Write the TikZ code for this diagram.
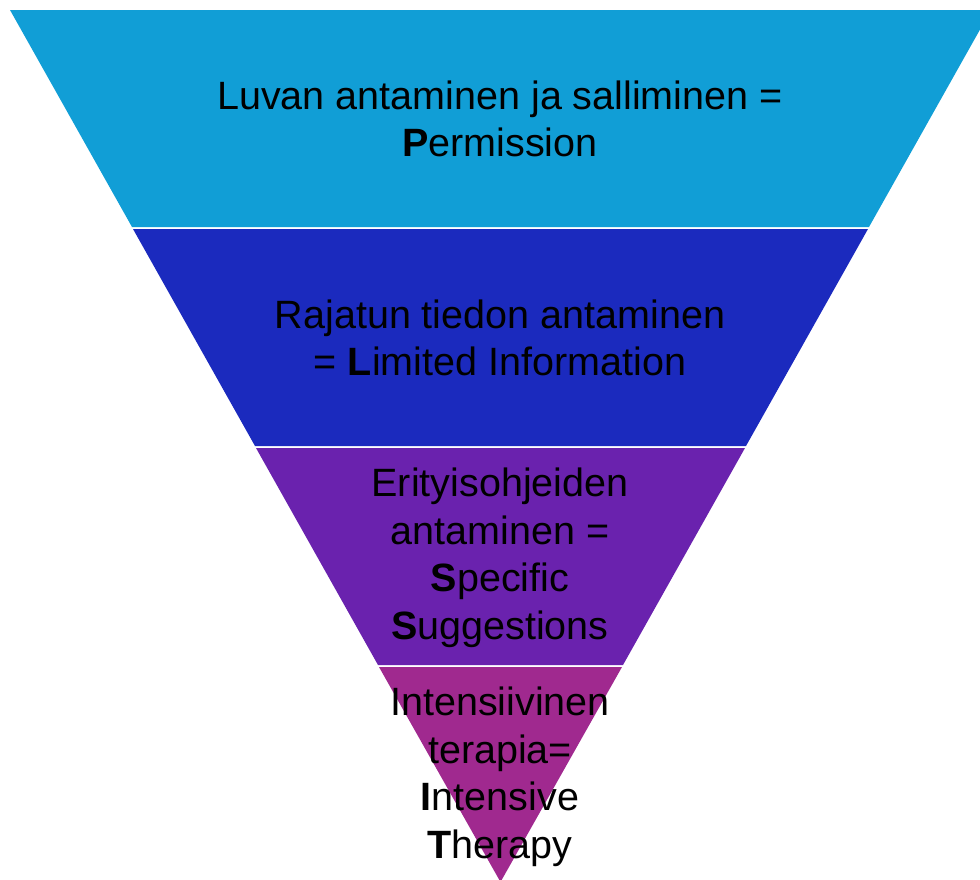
\documentclass[tikz,border=0pt]{standalone}
\usepackage{fontspec}
\setmainfont{Liberation Sans}
\usetikzlibrary{positioning}

\definecolor{permblue}{RGB}{17,158,214}
\definecolor{liblue}{RGB}{27,42,190}
\definecolor{sspurple}{RGB}{106,34,174}
\definecolor{itmagenta}{RGB}{160,41,143}

\begin{document}
\begin{tikzpicture}[x=1pt, y=-1pt,
    band/.style={draw=none},
    txt/.style={align=center, text=black, inner sep=0pt,
        font=\fontsize{39.5}{47.5}\selectfont}]
    \clip (0,0) rectangle (980,879);

    % bands of the funnel
    \fill[band, permblue]  (10,10) -- (991,10) -- (869,227) -- (132,227) -- cycle;
    \fill[band, liblue]    (133,229) -- (868,229) -- (746,446) -- (255,446) -- cycle;
    \fill[band, sspurple]  (256,448) -- (745,448) -- (623,665) -- (378,665) -- cycle;
    \fill[band, itmagenta] (379,667) -- (622,667) -- (500.5,882) -- cycle;

    % labels
    \node[txt] (p) at (500,119) {Luvan antaminen ja salliminen =\\\textbf{P}ermission};
    \node[txt] (l) at (500,338) {Rajatun tiedon antaminen\\= \textbf{L}imited Information};
    \node[txt] (s) at (500,558) {Erityisohjeiden\\antaminen =\\\textbf{S}pecific\\\textbf{S}uggestions};
    \node[txt] (i) at (500,777) {Intensiivinen\\terapia=\\\textbf{I}ntensive\\\textbf{T}herapy};
\end{tikzpicture}
\end{document}
